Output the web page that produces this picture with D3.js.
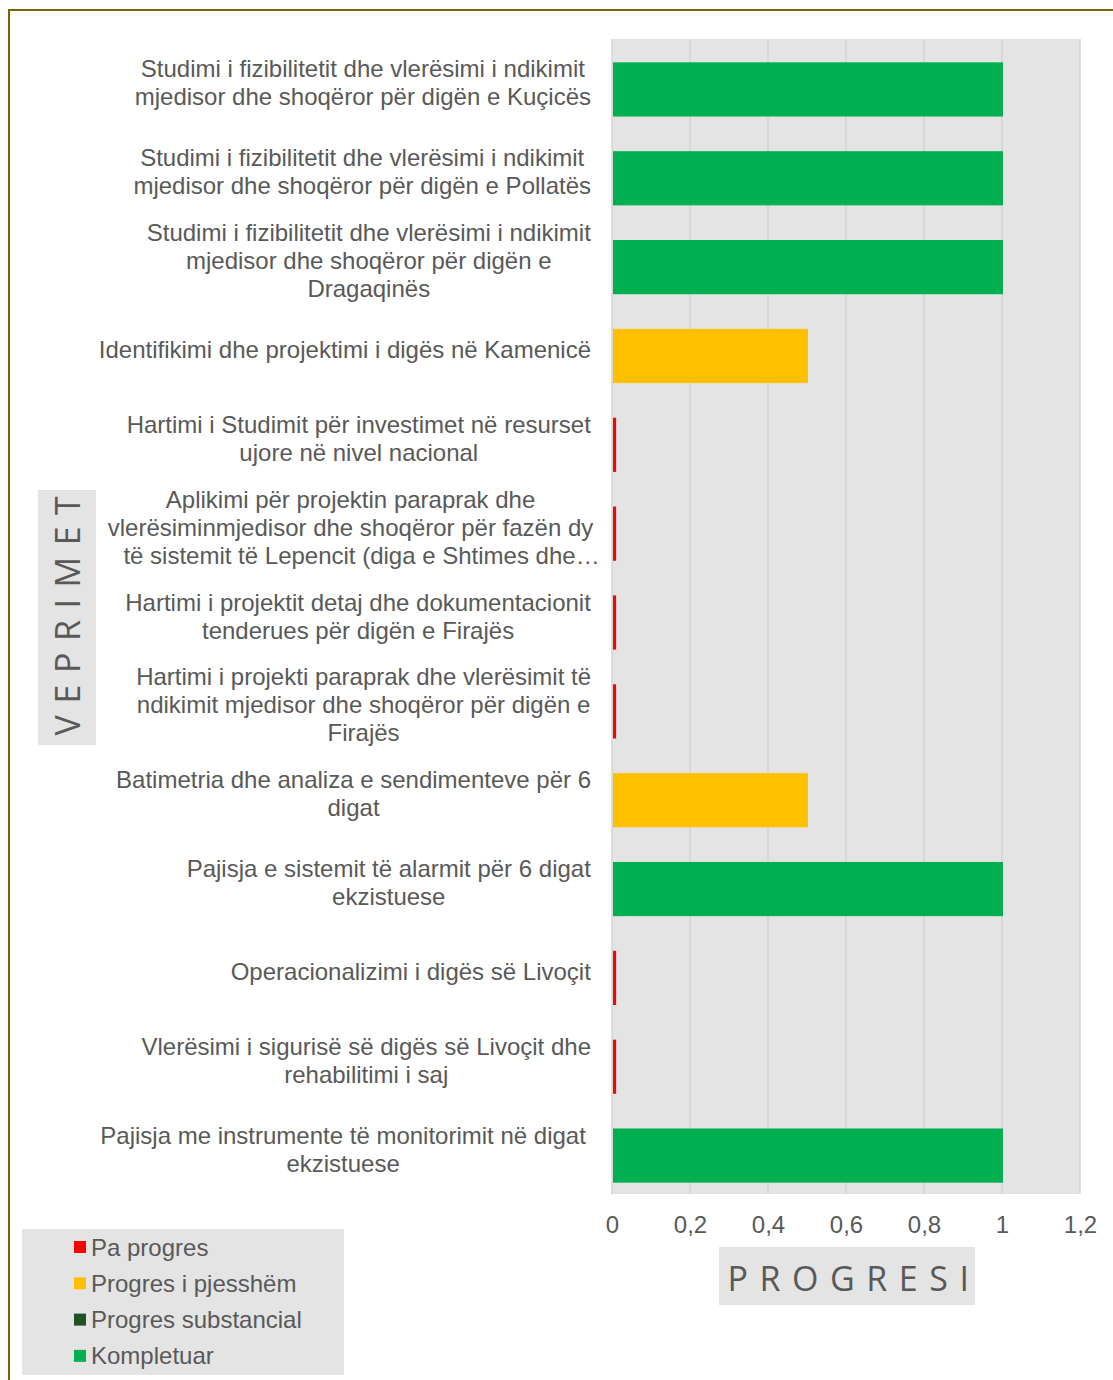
<!DOCTYPE html>
<html>
<head>
<meta charset="utf-8">
<script src="https://cdn.jsdelivr.net/npm/d3@7"></script>
<style>
  body { margin: 0; background: #fff; }
  svg text { font-variant-ligatures: none; }
</style>
</head>
<body>
<div id="chart"></div>
<script>
// actions (wrapped as in the original chart)
const categories = [
  ["Studimi i fizibilitetit dhe vlerësimi i ndikimit", "mjedisor dhe shoqëror për digën e Kuçicës"],
  ["Studimi i fizibilitetit dhe vlerësimi i ndikimit", "mjedisor dhe shoqëror për digën e Pollatës"],
  ["Studimi i fizibilitetit dhe vlerësimi i ndikimit", "mjedisor dhe shoqëror për digën e", "Dragaqinës"],
  ["Identifikimi dhe projektimi i digës në Kamenicë"],
  ["Hartimi i Studimit për investimet në resurset", "ujore në nivel nacional"],
  ["Aplikimi për projektin paraprak dhe", "vlerësiminmjedisor dhe shoqëror për fazën dy", "të sistemit të Lepencit (diga e Shtimes dhe…"],
  ["Hartimi i projektit detaj dhe dokumentacionit", "tenderues për digën e Firajës"],
  ["Hartimi i projekti paraprak dhe vlerësimit të", "ndikimit mjedisor dhe shoqëror për digën e", "Firajës"],
  ["Batimetria dhe analiza e sendimenteve për 6", "digat"],
  ["Pajisja e sistemit të alarmit për 6 digat", "ekzistuese"],
  ["Operacionalizimi i digës së Livoçit"],
  ["Vlerësimi i sigurisë së digës së Livoçit dhe", "rehabilitimi i saj"],
  ["Pajisja me instrumente të monitorimit në digat", "ekzistuese"]
];
const progress = [1, 1, 1, 0.5, 0.008, 0.008, 0.008, 0.008, 0.5, 1, 0.008, 0.008, 1];
const status = [3, 3, 3, 1, 0, 0, 0, 0, 1, 3, 0, 0, 3];

const legendLabels = ["Pa progres", "Progres i pjesshëm", "Progres substancial", "Kompletuar"];
const legendColors = ["#ff0000", "#ffc000", "#1e5127", "#00b050"];
const xTicks = [0, 0.2, 0.4, 0.6, 0.8, 1, 1.2];

const W = 1113, H = 1380;
const plot = { left: 612, right: 1080, top: 39, bottom: 1194 };
const grey = "#595959", panel = "#e4e4e4";
const FONT = "'Liberation Sans', Arial, sans-serif";
const fs = 24;

const svg = d3.select("#chart").append("svg")
  .attr("width", W).attr("height", H)
  .attr("font-family", FONT);

// outer frame
svg.append("path")
  .attr("d", `M9,${H} L9,10 L${W},10`)
  .attr("fill", "none")
  .attr("stroke", "#806000")
  .attr("stroke-width", 2);

let x = d3.scaleLinear().domain([0, 1.2]).range([plot.left, plot.right]);
let y = d3.scaleBand()
  .domain(d3.range(categories.length))
  .range([plot.top + 6, plot.bottom + 6])
  .paddingInner(0.39).paddingOuter(0.195);

// plot background
svg.append("rect")
  .attr("x", plot.left).attr("y", plot.top)
  .attr("width", plot.right - plot.left).attr("height", plot.bottom - plot.top)
  .attr("fill", panel);

// grid
svg.append("g").selectAll("line")
  .data(xTicks)
  .enter().append("line")
    .attr("x1", d => x(d)).attr("x2", d => x(d))
    .attr("y1", plot.top).attr("y2", plot.bottom)
    .attr("stroke", "#d4d4d4")
    .attr("stroke-width", 1.5);

// bars
svg.append("g").selectAll("rect")
  .data(progress)
  .enter().append("rect")
    .attr("x", x(0) + 1)
    .attr("y", (d, i) => y(i))
    .attr("width", d => x(d) - x(0))
    .attr("height", y.bandwidth())
    .attr("fill", (d, i) => legendColors[status[i]]);

// category labels: centred block, right aligned at 591
const lineH = 28;
const labelG = svg.append("g");
categories.forEach((lines, i) => {
  const cy = y(i) + y.bandwidth() / 2 - 6;
  const t = labelG.append("text")
    .attr("fill", grey)
    .attr("font-size", fs)
    .attr("text-anchor", "middle");
  lines.forEach((ln, j) => {
    t.append("tspan").attr("x", 0)
      .attr("dx", (i === 5 && j === 2) ? 11 : 0)   // truncated line sits a bit to the right
      .attr("y", cy + (j - (lines.length - 1) / 2) * lineH + 8)
      .text(ln);
  });
  const bb = t.node().getBBox();
  let right = (i === 12) ? 586 : 591;
  if (i === 5) right = 591 + 11 / 2;
  t.attr("transform", `translate(${right - bb.width / 2},0)`);
});

// x axis
const axisX = d3.axisBottom(x).tickValues(xTicks).tickSize(0).tickPadding(0)
  .tickFormat(d => String(d).replace(".", ","));
const gx = svg.append("g").attr("transform", `translate(0,${plot.bottom + 17})`).call(axisX);
gx.select(".domain").remove();
gx.selectAll("text")
  .attr("fill", grey)
  .attr("font-size", fs)
  .attr("font-family", FONT)
  .attr("dy", "0.9em");

// x axis title
svg.append("rect").attr("x", 719).attr("y", 1247).attr("width", 256).attr("height", 58).attr("fill", panel);
svg.append("text")
  .attr("x", 854).attr("y", 1291)
  .attr("text-anchor", "middle")
  .attr("fill", grey)
  .attr("font-size", 34)
  .attr("letter-spacing", "0.34em")
  .style("font-family", "'Open Sans', sans-serif")
  .text("PROGRESI");

// y axis title
svg.append("rect").attr("x", 38).attr("y", 490).attr("width", 58).attr("height", 255).attr("fill", panel);
svg.append("text")
  .attr("transform", "translate(80,610) rotate(-90)")
  .attr("text-anchor", "middle")
  .attr("fill", grey)
  .attr("font-size", 34)
  .attr("letter-spacing", "0.34em")
  .style("font-family", "'Open Sans', sans-serif")
  .text("VEPRIMET");

// legend
const lg = svg.append("g");
lg.append("rect").attr("x", 22).attr("y", 1229).attr("width", 322).attr("height", 146).attr("fill", panel);
const item = lg.selectAll("g.item")
  .data(legendLabels)
  .enter().append("g")
    .attr("class", "item")
    .attr("transform", (d, i) => `translate(74,${1247 + i * 36.3})`);
item.append("rect")
  .attr("y", -6).attr("width", 12).attr("height", 12)
  .attr("fill", (d, i) => legendColors[i]);
item.append("text")
  .attr("x", 17).attr("y", 8.5)
  .attr("fill", grey)
  .attr("font-size", fs)
  .text(d => d);
</script>
</body>
</html>
